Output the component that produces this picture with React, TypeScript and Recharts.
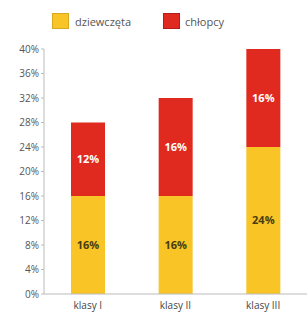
import { BarChart, Bar, XAxis, YAxis, LabelList, Legend } from 'recharts';

const categories = ['klasy I', 'klasy II', 'klasy III'];
const girls = [16, 16, 24];
const boys = [12, 16, 16];
const yTicks = [0, 4, 8, 12, 16, 20, 24, 28, 32, 36, 40];

const data = categories.map((name, i) => ({ name, girls: girls[i], boys: boys[i] }));

const YELLOW = '#F8C426';
const RED = '#E0291F';
const FONT = '"Open Sans", "Noto Sans", sans-serif';

const renderLegend = () => (
  <div style={{ display: 'flex', alignItems: 'center', fontFamily: FONT, fontSize: 11, color: '#555', height: 16 }}>
    <span style={{ width: 17, height: 16, background: YELLOW, border: '1px solid #d8a820', boxSizing: 'border-box', marginRight: 6 }}></span>
    <span style={{ width: 88 }}>dziewczęta</span>
    <span style={{ width: 17, height: 16, background: RED, border: '1px solid #b01f18', boxSizing: 'border-box', marginRight: 5 }}></span>
    <span>chłopcy</span>
  </div>
);

export default function App() {
  return (
    <div style={{ position: 'absolute', left: 0, top: 0, width: 307, height: 314, background: '#fff' }}>
      <BarChart width={307} height={314} data={data} margin={{ top: 33, right: 0, bottom: 0, left: 0 }} barSize={34}>
        <Legend verticalAlign="top" height={16} content={renderLegend} wrapperStyle={{ top: 13, left: 52, width: 250 }} />
        <XAxis
          dataKey="name"
          height={20}
          tickLine={false}
          axisLine={{ stroke: '#bbb' }}
          tick={{ fontSize: 10, fill: '#444', fontFamily: FONT }}
        />
        <YAxis
          width={44}
          domain={[0, 40]}
          ticks={yTicks}
          interval={0}
          tickFormatter={(v) => `${v}%`}
          tickSize={3}
          tickLine={{ stroke: '#bbb' }}
          axisLine={{ stroke: '#bbb' }}
          tick={{ fontSize: 10, fill: '#555', fontFamily: FONT }}
        />
        <Bar dataKey="girls" stackId="a" fill={YELLOW} isAnimationActive={false}>
          <LabelList dataKey="girls" position="center" formatter={(v: any) => `${v}%`} fill="#4a3c10" fontSize={11} fontWeight={700} fontFamily={FONT} />
        </Bar>
        <Bar dataKey="boys" stackId="a" fill={RED} isAnimationActive={false}>
          <LabelList dataKey="boys" position="center" formatter={(v: any) => `${v}%`} fill="#fff" fontSize={11} fontWeight={700} fontFamily={FONT} />
        </Bar>
      </BarChart>
    </div>
  );
}
